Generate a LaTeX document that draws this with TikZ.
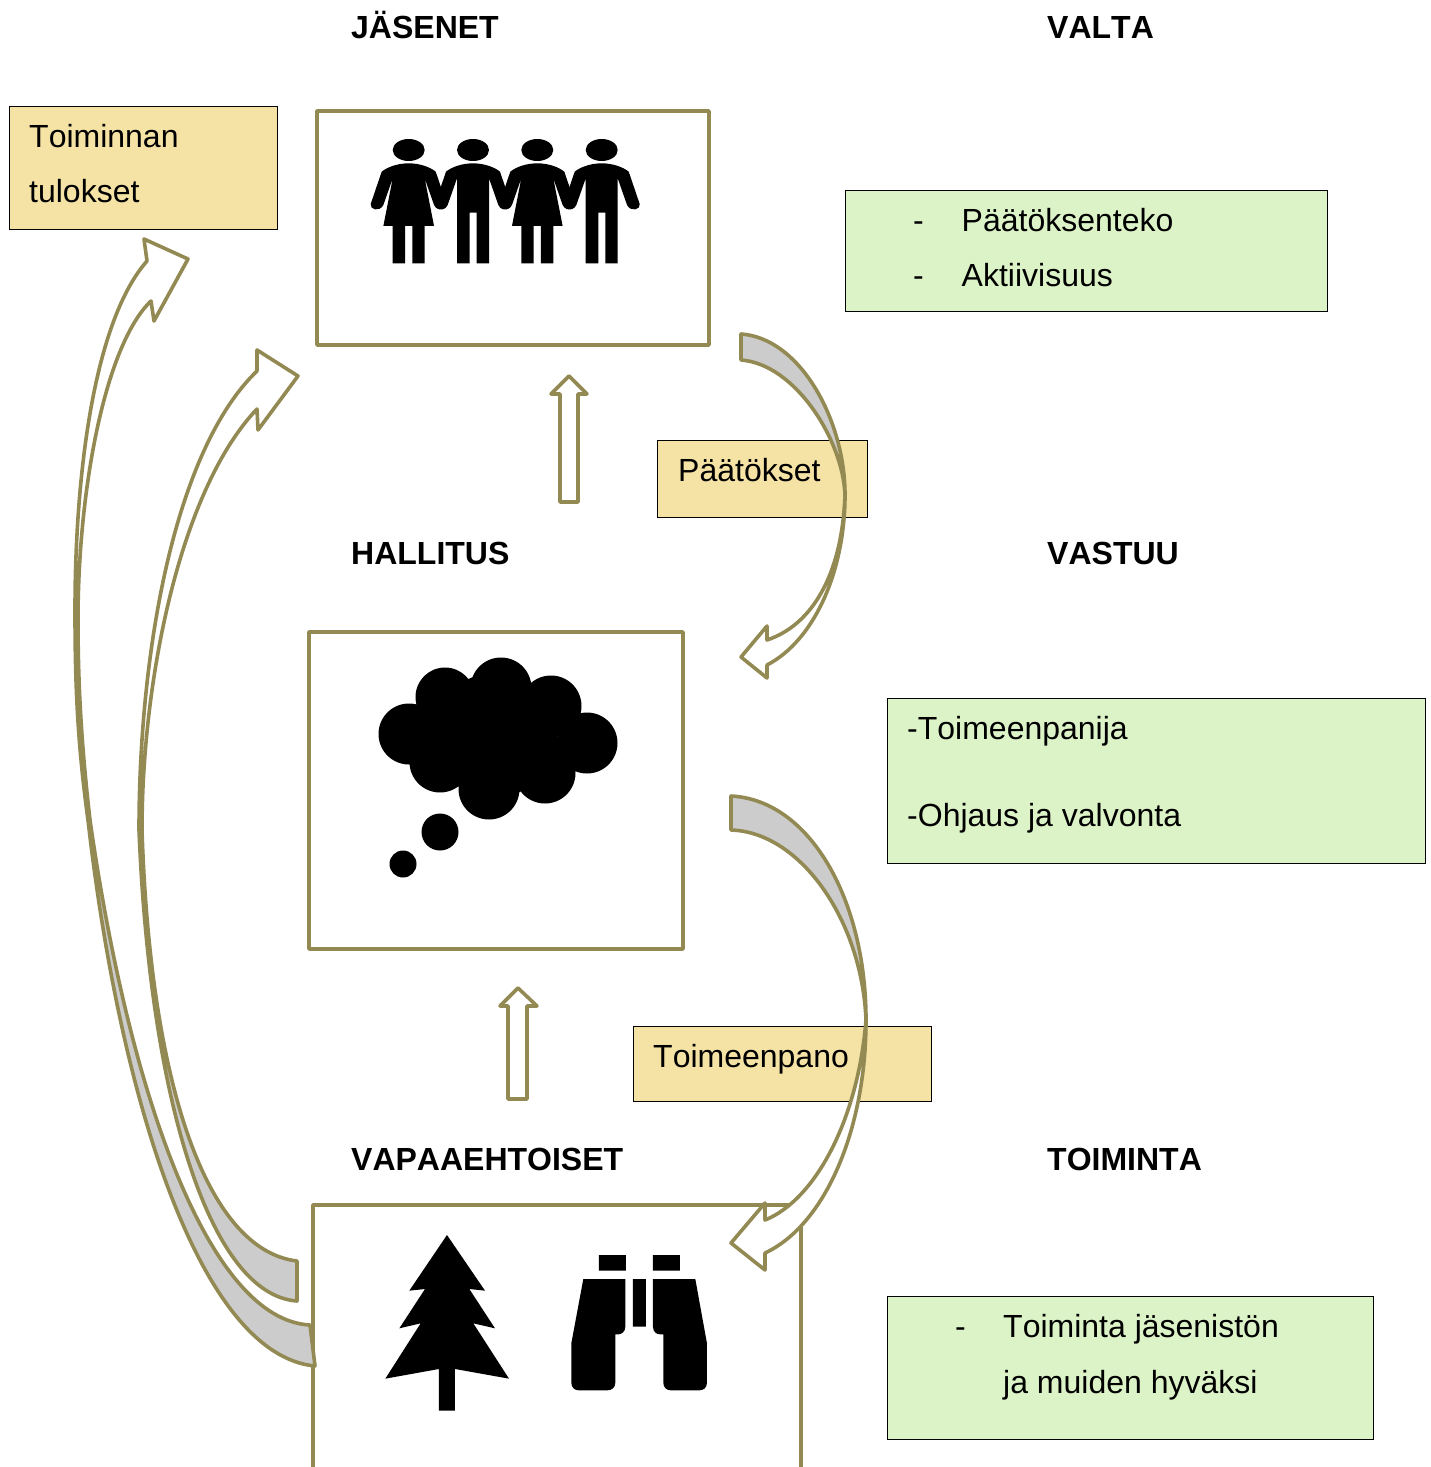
\documentclass[tikz,border=0pt]{standalone}
\usepackage{fontspec}
\setmainfont[Kerning=Off]{Liberation Sans}
\definecolor{olivec}{HTML}{938953}
\definecolor{yellowc}{HTML}{F5E2A5}
\definecolor{greenc}{HTML}{DCF3C7}
\definecolor{greyc}{HTML}{CCCCCC}
\tikzset{
  txt/.style={anchor=base west,inner sep=0pt,font=\fontsize{32}{32}\selectfont},
  head/.style={anchor=base west,inner sep=0pt,font=\fontsize{32}{32}\selectfont\bfseries},
  ybox/.style={draw=black,line width=1pt,fill=yellowc,inner sep=0pt},
  gbox/.style={draw=black,line width=1pt,fill=greenc,inner sep=0pt},
  obox/.style={draw=olivec,line width=3.6pt,fill=white,inner sep=0pt,line join=round},
  olive/.style={draw=olivec,line width=3.6pt,line join=round},
  whitepart/.style={olive,fill=white},
  greypart/.style={olive,fill=greyc},
  woman/.pic={
    \begin{scope}[x=0.3333pt,y=-0.3333pt]
    \fill[black] (0,60) ellipse [x radius=48,y radius=33];
    \fill[black] (0,100) .. controls (-35,100) and (-65,112) .. (-81,125) -- (-114,222)
      .. controls (-118,238) and (-88,248) .. (-76,225) -- (-48,145) -- (-76,288) -- (-48,288) -- (-48,400)
      -- (-11,400) -- (-11,288) -- (11,288) -- (11,400) -- (48,400) -- (48,288) -- (76,288) -- (48,145)
      -- (76,225) .. controls (88,248) and (118,238) .. (114,222) -- (81,125)
      .. controls (65,112) and (35,100) .. (0,100) -- cycle;
    \end{scope}},
  man/.pic={
    \begin{scope}[x=0.3333pt,y=-0.3333pt]
    \fill[black] (0,60) ellipse [x radius=48,y radius=33];
    \fill[black] (0,100) .. controls (-35,100) and (-65,112) .. (-81,125) -- (-114,222)
      .. controls (-118,238) and (-88,248) .. (-76,225) -- (-48,145) -- (-48,400)
      -- (-10,400) -- (-10,248) -- (11,248) -- (11,400) -- (48,400) -- (48,145)
      -- (76,225) .. controls (88,248) and (118,238) .. (114,222) -- (81,125)
      .. controls (65,112) and (35,100) .. (0,100) -- cycle;
    \end{scope}}
}
\begin{document}
\begin{tikzpicture}[x=1pt,y=-1pt]
\useasboundingbox (0,0) rectangle (1431,1467);

% headings
\node[head] (hJasenet) at (351,38) {JÄSENET};
\node[head] (hValta) at (1047,38) {VALTA};
\node[head] (hHallitus) at (351,564) {HALLITUS};
\node[head] (hVastuu) at (1047,564) {VASTUU};
\node[head] (hVapaa) at (351,1170) {VAPAAEHTOISET};
\node[head] (hToiminta) at (1047,1170) {TOIMINTA};

% main boxes
\node[obox,minimum width=392pt,minimum height=234pt] (jasenet) at (513,228) {};
\node[obox,minimum width=374pt,minimum height=317pt] (hallitus) at (496,790.5) {};
\draw[olive] (313,1467) -- (313,1205) -- (801,1205) -- (801,1467);

% coloured boxes
\node[ybox,minimum width=268pt,minimum height=123pt] (tulokset) at (143,168) {};
\node[txt] (t1) at (29,147) {Toiminnan};
\node[txt] (t2) at (29,202) {tulokset};
\node[ybox,minimum width=210pt,minimum height=77pt] (paatokset) at (762,479) {};
\node[txt] (t3) at (678,481) {Päätökset};
\node[ybox,minimum width=298pt,minimum height=75pt] (toimeenpano) at (782,1064) {};
\node[txt] (t4) at (653,1067) {Toimeenpano};
\node[gbox,minimum width=482pt,minimum height=121pt] (valta) at (1086,251) {};
\node[txt] (t5) at (913,231) {-};
\node[txt] (t6) at (961.5,231) {Päätöksenteko};
\node[txt] (t7) at (913,286) {-};
\node[txt] (t8) at (961.5,286) {Aktiivisuus};
\node[gbox,minimum width=538pt,minimum height=165pt] (vastuu) at (1156,781) {};
\node[txt] (t9) at (907,739) {-Toimeenpanija};
\node[txt] (t10) at (907,826) {-Ohjaus ja valvonta};
\node[gbox,minimum width=486pt,minimum height=143pt] (toiminta) at (1130,1368) {};
\node[txt] (t11) at (955,1337) {-};
\node[txt] (t12) at (1003,1337) {Toiminta jäsenistön};
\node[txt] (t13) at (1003,1393) {ja muiden hyväksi};

% people
\pic at (408.7,130) {woman};
\pic at (473,130) {man};
\pic at (537.3,130) {woman};
\pic at (601.7,130) {man};

% thought cloud
\fill[black] (409,734) circle (30.5) (445,697) circle (29.5) (501,688) circle (30.5)
  (551,706) circle (30.5) (587,743) circle (30.5) (545,773) circle (30.5)
  (489,789) circle (30.5) (440,762) circle (30.5) (495,735) circle (62);
\fill[black] (440,832) circle (18.5) (403,864) circle (13.5);

% tree and binoculars
\begin{scope}[shift={(370,1220)},x=0.3333pt,y=-0.3333pt]
\fill[black] (231,45) -- (345,212) -- (298,207) -- (375,325) -- (310,310) -- (417,476)
  -- (255,447) -- (255,572) -- (207,572) -- (207,447) -- (46,476) -- (152,310) -- (88,325)
  -- (165,207) -- (118,212) -- cycle;
\fill[black] (687,105) rectangle (768,152) (849,105) rectangle (930,152) (789,177) rectangle (828,320);
\fill[black] (640,177) -- (766,177) -- (766,320) .. controls (766,335) and (755,343) .. (745,343)
  -- (736,343) -- (736,488) .. controls (736,503) and (725,511) .. (712,511) -- (627,511)
  .. controls (614,511) and (604,503) .. (604,488) -- (604,370) -- cycle;
\fill[black] (849,177) -- (976,177) -- (1011,370) -- (1011,488) .. controls (1011,503) and (1001,511) .. (988,511)
  -- (903,511) .. controls (890,511) and (880,503) .. (880,488) -- (880,343) -- (870,343)
  .. controls (859,343) and (849,335) .. (849,320) -- cycle;
\end{scope}

% small up arrows
\draw[whitepart] (569,376) -- (587,394) -- (578,394) -- (578,502) -- (560,502) -- (560,394) -- (551,394) -- cycle;
\draw[whitepart] (518,988) -- (537,1006) -- (527,1006) -- (527,1099) -- (508,1099) -- (508,1006) -- (500,1006) -- cycle;

% right arrow 1
\draw[greypart] (741,334) .. controls (800,338) and (845,420) .. (845,495)
  .. controls (843,440) and (795,364) .. (741,360) -- cycle;
\draw[whitepart] (845,495) .. controls (845,570) and (815,640) .. (767,665) -- (767,678) -- (741,657) -- (767,626)
  -- (767,640) .. controls (812,625) and (842,575) .. (845,495) -- cycle;

% right arrow 2
\draw[greypart] (731,796) .. controls (810,800) and (866,900) .. (866,1020)
  .. controls (862,920) and (800,832) .. (731,830) -- cycle;
\draw[whitepart] (866,1020) .. controls (866,1130) and (825,1225) .. (765,1253) -- (765,1270) -- (731,1243) -- (765,1203)
  -- (765,1220) .. controls (815,1200) and (858,1120) .. (866,1020) -- cycle;

% left arrow outer
\draw[whitepart] (88,820) .. controls (77,740) and (75,680) .. (75,610)
  .. controls (75,470) and (95,320) .. (147,261) -- (144,239) -- (188,259) -- (154,321) -- (151,301)
  .. controls (105,345) and (78,490) .. (78,620)
  .. controls (78,690) and (82,750) .. (90,820) -- cycle;
\draw[greypart] (315,1366) .. controls (200,1355) and (120,1100) .. (88,820)
  -- (90,820) .. controls (130,1100) and (210,1320) .. (310,1325) -- cycle;

% left arrow inner
\draw[whitepart] (139,830) .. controls (139,650) and (175,450) .. (257,371) -- (257,350) -- (298,376) -- (258,430) -- (257,409)
  .. controls (180,490) and (142,680) .. (142,830) -- cycle;
\draw[greypart] (297,1301) .. controls (210,1295) and (150,1100) .. (139,830)
  -- (142,830) .. controls (150,1080) and (205,1250) .. (297,1261) -- cycle;
\end{tikzpicture}
\end{document}
